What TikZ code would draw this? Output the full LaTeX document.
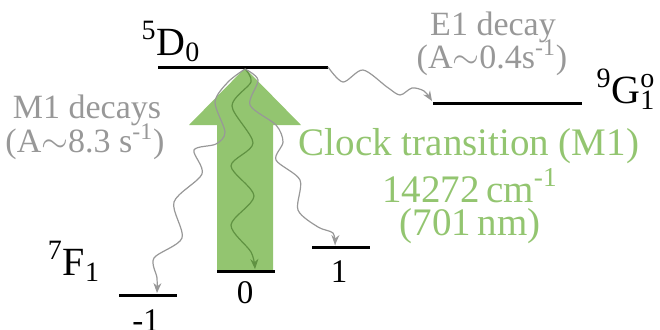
\documentclass[tikz,border=0pt]{standalone}
\usepackage{fontspec}
\setmainfont{Liberation Serif}
\usetikzlibrary{arrows.meta, positioning}
\definecolor{clockgreen}{RGB}{147,197,112}
\definecolor{decaygray}{RGB}{152,152,152}
\definecolor{deepgreen}{RGB}{96,146,66}

\begin{document}
\begin{tikzpicture}[
    x=0.5pt, y=-0.5pt,
    level/.style={line width=1.5pt, black},
    wave/.style={line width=0.6pt, -{Stealth[length=5pt, width=4pt]}},
    statelabel/.style={anchor=base, inner sep=0pt, font=\fontsize{20}{24}\selectfont},
    mlabel/.style={anchor=base, inner sep=0pt, font=\fontsize{16.5}{20}\selectfont},
    graytext/.style={anchor=base, inner sep=0pt, text=decaygray, font=\fontsize{17}{20}\selectfont},
    greentext/.style={anchor=base, inner sep=0pt, text=clockgreen, font=\fontsize{19.5}{22}\selectfont}
]
    \useasboundingbox (0,0) rectangle (660,329);

    % clock arrow
    \fill[clockgreen] (217,272) -- (217,125) -- (189,125) -- (245,68) -- (301,125) -- (273,125) -- (273,272) -- cycle;

    % levels
    \draw[level] (158,67) coordinate (dL) -- (328,67) coordinate (dR);
    \draw[level] (433,103) coordinate (gL) -- (582,103) coordinate (gR);
    \draw[level] (119,295) coordinate (mL) -- (177,295) coordinate (mR);
    \draw[level] (217,271) coordinate (zL) -- (275,271) coordinate (zR);
    \draw[level] (312,247) coordinate (pL) -- (370,247) coordinate (pR);

    \coordinate (top) at (245,69);
    \coordinate (mEnd) at (157,293);
    \coordinate (zEnd) at (255,269);
    \coordinate (pEnd) at (335,245);
    \coordinate (gEnd) at (432,101);

    % decays
    \draw[wave, decaygray] plot[smooth] coordinates {(top) (228,82) (215,102) (225,132) (216,144) (194,150) (202,174) (174,202) (182,238) (154,258) (157,278) (mEnd)};
    \draw[wave, deepgreen] plot[smooth] coordinates {(top) (251,82) (232,106) (253,143) (231,166) (254,196) (231,225) (251,252) (zEnd)};
    \draw[wave, decaygray] plot[smooth] coordinates {(top) (258,80) (250,105) (276,125) (283,142) (276,160) (300,180) (298,210) (318,227) (333,233) (pEnd)};
    \draw[wave, decaygray] plot[smooth] coordinates {(dR) (343,82) (363,70) (387,87) (400,95) (412,88) (424,91) (gEnd)};

    % state labels
    \node[statelabel] (d0) at (171,55) {\textsuperscript{5}D\textsubscript{0}};
    \node[statelabel] (f1) at (74,275) {\textsuperscript{7}F\textsubscript{1}};
    \node[statelabel] (g1) at (626,103) {\textsuperscript{9}G\rlap{\textsuperscript{o}}\textsubscript{1}};
    \node[mlabel] (mm) at (146,331) {-1};
    \node[mlabel] (m0) at (245,303) {0};
    \node[mlabel] (mp) at (339,282) {1};

    % texts
    \node[graytext] (m1a) at (87,118) {M1 decays};
    \node[graytext] (m1b) at (85,152) {(A$\sim$8.3 s\textsuperscript{-1})};
    \node[graytext] (e1a) at (493,35) {E1 decay};
    \node[graytext] (e1b) at (492,68) {(A$\sim$0.4s\textsuperscript{-1})};
    \node[greentext] (clk) at (469,155) {Clock transition (M1)};
    \node[greentext] (wn) at (470,202) {14272\,cm\textsuperscript{-1}};
    \node[greentext] (wl) at (470,235) {(701\,nm)};
\end{tikzpicture}
\end{document}
